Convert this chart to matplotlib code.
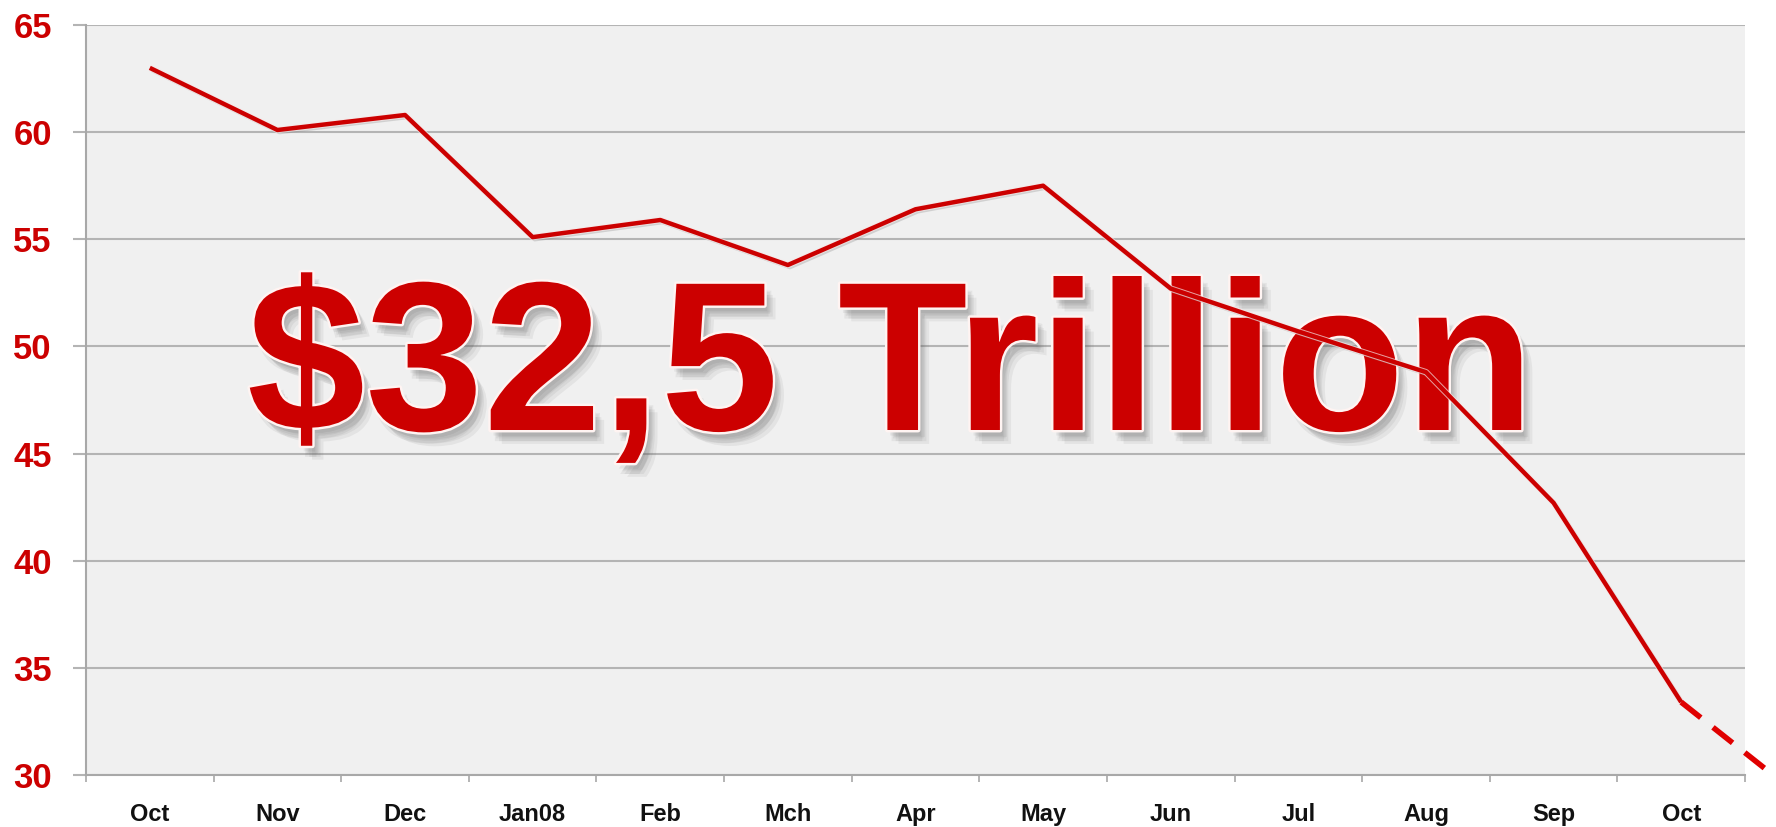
import matplotlib
matplotlib.use("Agg")
import matplotlib.pyplot as plt
import matplotlib.patheffects as pe
from matplotlib.ticker import FixedLocator

# Monthly values (trillions), Oct 2007 - Oct 2008
months = ["Oct", "Nov", "Dec", "Jan08", "Feb", "Mch", "Apr", "May",
          "Jun", "Jul", "Aug", "Sep", "Oct"]
values = [63.0, 60.1, 60.8, 55.1, 55.9, 53.8, 56.4, 57.5,
          52.7, 50.7, 48.8, 42.7, 33.4]

# Projected continuation after the last month
proj_x = [12, 12.72]
proj_values = [33.4, 30.0]

y_ticks = [30, 35, 40, 45, 50, 55, 60, 65]
headline = "$32,5 Trillion"

RED = "#cc0000"
GRID = "#b4b4b4"

plt.rcParams["font.family"] = ["Liberation Sans", "DejaVu Sans"]

fig = plt.figure(figsize=(17.76, 8.27), dpi=100)
ax = fig.add_axes([86 / 1776, 1 - 775 / 827, (1745 - 86) / 1776, (775 - 25) / 827])
ax.set_facecolor("#f0f0f0")

x = list(range(len(months)))
ax.set_xlim(-0.5, len(months) - 0.5)
ax.set_ylim(y_ticks[0], y_ticks[-1])

# grid
ax.set_yticks(y_ticks)
ax.yaxis.grid(True, color=GRID, linewidth=1.5)
ax.set_axisbelow(True)

# category labels centred, tick marks on category boundaries
ax.set_xticks(x)
ax.set_xticklabels(months, fontsize=17, fontweight="bold", color="#111111")
ax.xaxis.set_minor_locator(FixedLocator([i - 0.5 for i in range(len(months) + 1)]))
ax.tick_params(axis="x", which="major", length=0, pad=20)
ax.tick_params(axis="x", which="minor", length=5, width=1.2, color="#a8a8a8")

ax.tick_params(axis="y", length=9.5, width=1.5, color=GRID, pad=15,
               labelsize=25, labelcolor=RED)
for lbl in ax.get_yticklabels():
    lbl.set_fontweight("bold")

for side in ("top", "right"):
    ax.spines[side].set_visible(False)
for side in ("left", "bottom"):
    ax.spines[side].set_color("#a8a8a8")
    ax.spines[side].set_linewidth(1.5)

# headline text with white outline and soft layered shadow (below the series line)
shadow_layers = [
    pe.SimplePatchShadow(offset=(dx, dy), shadow_rgbFace="#606060", alpha=0.09)
    for dx, dy in [(2, -4), (4, -6), (6, -8), (8, -10), (5, -5), (3, -8)]
]
ax.text(247 / 1776, 1 - 430 / 827, headline, transform=fig.transFigure,
        fontsize=153, fontweight="bold", color=RED, ha="left", va="baseline",
        zorder=3, clip_on=False,
        path_effects=shadow_layers + [pe.withStroke(linewidth=3.5, foreground="#fff4f2")])

# series line with a faint light halo so it reads over the headline
ax.plot(x, values, color=RED, linewidth=3.2, solid_capstyle="butt", zorder=5,
        path_effects=[pe.SimpleLineShadow(offset=(1.5, -1.5), shadow_color="#888888", alpha=0.3),
                      pe.Stroke(linewidth=4.6, foreground="#f6e6e6", alpha=0.7),
                      pe.Normal()])
ax.plot(proj_x, proj_values, color="#e00000", linewidth=4, linestyle=(0, (4.5, 2.8)),
        clip_on=False, zorder=5)

fig.savefig("out.png", dpi=100, facecolor="white")
